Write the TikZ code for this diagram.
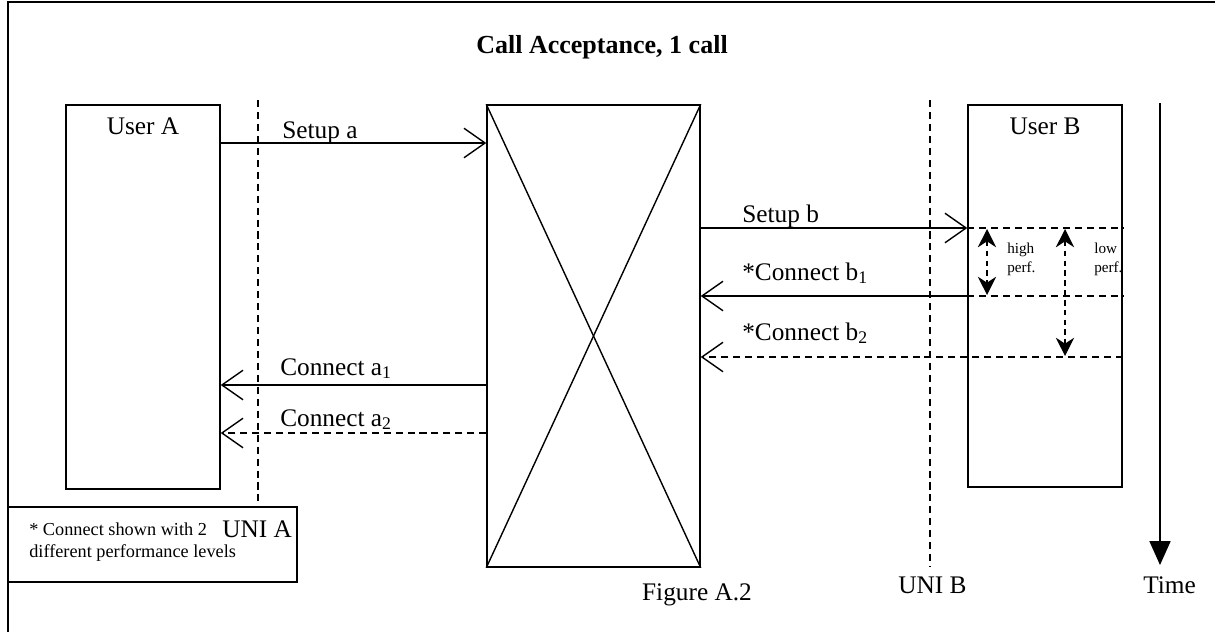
\documentclass[tikz,border=0pt]{standalone}
\usepackage{fontspec}
\setmainfont{Liberation Serif}
\usepackage{tikz}
\usetikzlibrary{arrows.meta}
\tikzset{
	box/.style={draw, line width=0.35mm, inner sep=0pt},
	msg/.style={line width=0.35mm, -{Straight Barb[length=15pt,width=21pt]}},
	uni/.style={line width=0.35mm, dash pattern=on 5pt off 3.5pt},
	perf/.style={line width=0.35mm, dash pattern=on 4pt off 3pt, {Stealth[length=13pt,width=13pt]}-{Stealth[length=13pt,width=13pt]}},
	lbl/.style={inner sep=0pt, anchor=base west, font=\fontsize{18}{21}\selectfont},
	small/.style={inner sep=0pt, anchor=base west, align=left, font=\fontsize{10.8}{13.5}\selectfont},
}
\begin{document}
\begin{tikzpicture}[x=0.025cm, y=-0.025cm]
		%%%%% START %%%%%
		\useasboundingbox (0, 0) rectangle (1215, 632);
		
		% frame
		\draw[line width=0.45mm] (8, 632) -- (8, 2) -- (1215, 2);
		
		\node[inner sep=0pt, anchor=base, font=\bfseries\fontsize{18.5}{22}\selectfont] (title) at (602, 53) {Call Acceptance, 1 call};
		
		% users and network
		\node[box, minimum width=3.85cm, minimum height=9.6cm] (userA) at (143, 297) {};
		\node[box, minimum width=5.325cm, minimum height=11.55cm] (sw) at (593.5, 336) {};
		\node[box, minimum width=3.85cm, minimum height=9.55cm] (userB) at (1045, 296) {};
		\draw[line width=0.35mm] (sw.north west) -- (sw.south east);
		\draw[line width=0.35mm] (sw.north east) -- (sw.south west);
		\node[lbl, anchor=base] (nameA) at (143, 134) {User A};
		\node[lbl, anchor=base] (nameB) at (1045, 134) {User B};
		
		% note
		\node[box, minimum width=7.225cm, minimum height=1.875cm] (note) at (152.5, 544.5) {};
		\node[inner sep=0pt, anchor=base west, align=left, font=\fontsize{13}{15.6}\selectfont] (notetext) at (29, 557) {* Connect shown with 2\\different performance levels};
		
		% interfaces
		\draw[uni] (258, 100) -- (258, 507);
		\draw[uni] (930, 100) -- (930, 567);
		\node[lbl] (uniA) at (222, 537) {UNI A};
		\node[lbl] (uniB) at (898, 593) {UNI B};
		
		% messages
		\draw[msg] (userA.east |- 0, 143) -- (sw.west |- 0, 143);
		\node[lbl] (setupA) at (282, 138) {Setup a};
		
		\draw[msg] (sw.east |- 0, 228) -- (userB.west |- 0, 228);
		\draw[uni] (userB.west |- 0, 228) -- (userB.east |- 0, 228);
		\node[lbl] (setupB) at (742, 222) {Setup b};
		
		\draw[msg] (userB.west |- 0, 296) -- (sw.east |- 0, 296);
		\draw[uni] (userB.west |- 0, 296) -- (userB.east |- 0, 296);
		\node[lbl] (connB1) at (742, 280) {*Connect b\textsubscript{1}};
		
		\draw[msg, uni] (userB.east |- 0, 357) -- (sw.east |- 0, 357);
		\node[lbl] (connB2) at (742, 340) {*Connect b\textsubscript{2}};
		
		\draw[msg] (sw.west |- 0, 385) -- (userA.east |- 0, 385);
		\node[lbl] (connA1) at (280, 375) {Connect a\textsubscript{1}};
		
		\draw[msg, uni] (sw.west |- 0, 433) -- (userA.east |- 0, 433);
		\node[lbl] (connA2) at (280, 426) {Connect a\textsubscript{2}};
		
		% performance levels
		\draw[perf] (987, 229) -- (987, 295);
		\node[small] (high) at (1007, 272) {high\\perf.};
		\draw[perf] (1065, 229) -- (1065, 356);
		\node[small] (low) at (1094, 272) {low\\perf.};
		
		% time
		\draw[line width=0.35mm, -{Triangle[length=17pt,width=15pt]}] (1160, 103) -- (1160, 565);
		\node[lbl] (time) at (1143, 593) {Time};
		
		\node[lbl, anchor=base] (fig) at (697, 600) {Figure A.2};
		%%%%% END %%%%%
	\end{tikzpicture}
\end{document}
